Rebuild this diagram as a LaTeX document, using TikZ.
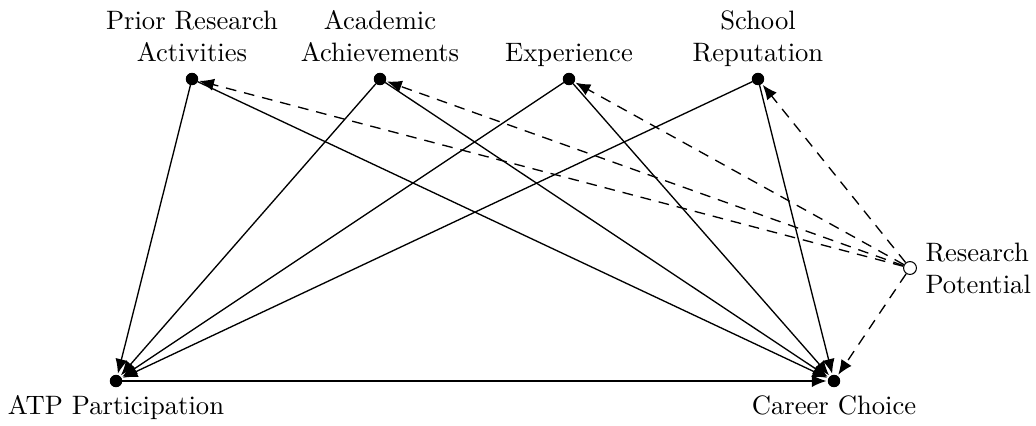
\documentclass[tikz,border=0pt]{standalone}
\usepackage{amsmath}
\usepackage{tikz}
\usetikzlibrary{arrows.meta}
\tikzstyle{factor}=[circle, fill=black, draw=black, inner sep=0pt, minimum size=0.15cm]
\tikzstyle{latent}=[circle, fill=white, draw=black, inner sep=0pt, minimum size=0.17cm]
\tikzstyle{lbl}=[align=center, font=\normalsize, inner sep=1pt, text depth=2.5pt]
\tikzstyle{path}=[-{Latex[length=5.5pt,width=4.6pt]}, draw=black, line width=0.5pt, shorten >=0.5pt]
\tikzstyle{effect}=[-{Latex[length=5.5pt,width=4.6pt]}, draw=black, dash pattern=on 4pt off 3pt, line width=0.5pt, shorten >=0.5pt]
\pgfdeclarelayer{edgelayer}
\pgfdeclarelayer{nodelayer}
\pgfsetlayers{edgelayer,nodelayer,main}

\begin{document}
\begin{tikzpicture}[x=0.0132cm, y=-0.0132cm]
            \useasboundingbox (0, 0) rectangle (1036, 425);
            \begin{pgfonlayer}{nodelayer}
                \node [style=factor, label={[lbl, label distance=0.5pt]above:Prior Research\\Activities}] (prior) at (192, 79) {};
                \node [style=factor, label={[lbl, label distance=0.5pt]above:Academic\\Achievements}] (acad) at (380, 79) {};
                \node [style=factor, label={[lbl, label distance=0.5pt]above:Experience}] (exper) at (569, 79) {};
                \node [style=factor, label={[lbl, label distance=0.5pt]above:School\\Reputation}] (school) at (758, 79) {};
                \node [style=latent, label={[lbl, align=left, text depth=0pt, label distance=2pt]right:Research\\Potential}] (resp) at (910, 268) {};
                \node [style=factor, label={[lbl, text depth=0pt, label distance=2pt]below:ATP Participation}] (atp) at (116, 381) {};
                \node [style=factor, label={[lbl, text depth=0pt, label distance=2pt]below:Career Choice}] (career) at (834, 381) {};
            \end{pgfonlayer}
            \begin{pgfonlayer}{edgelayer}
                \draw [style=path] (prior) to (atp);
                \draw [style=path] (acad) to (atp);
                \draw [style=path] (exper) to (atp);
                \draw [style=path] (school) to (atp);
                \draw [style=path] (prior) to (career);
                \draw [style=path] (acad) to (career);
                \draw [style=path] (exper) to (career);
                \draw [style=path] (school) to (career);
                \draw [style=path] (atp) to (career);

                \draw [style=effect] (resp) to (prior);
                \draw [style=effect] (resp) to (acad);
                \draw [style=effect] (resp) to (exper);
                \draw [style=effect] (resp) to (school);
                \draw [style=effect] (resp) to (career);
            \end{pgfonlayer}
        \end{tikzpicture}
\end{document}
